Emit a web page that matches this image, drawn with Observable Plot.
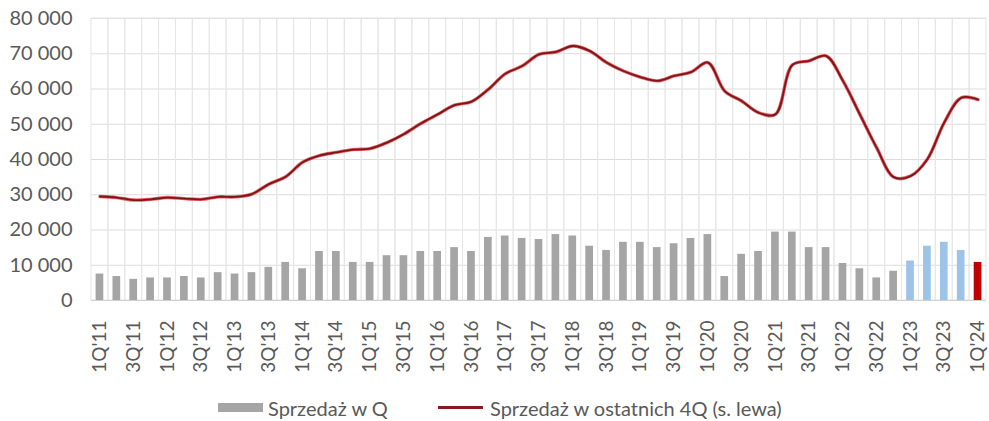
<!DOCTYPE html>
<html>
<head>
<meta charset="utf-8">
<script src="https://cdn.jsdelivr.net/npm/d3@7"></script>
<script src="https://cdn.jsdelivr.net/npm/@observablehq/plot@0.6"></script>
<style>
  html, body { margin: 0; padding: 0; background: #fff; }
  #chart { width: 989px; height: 421px; position: relative; font-family: Lato, "Open Sans", sans-serif; color: #595959; }
  #legend { position: absolute; left: 0; top: 394px; width: 989px; height: 27px; font-size: 20px; }
  .item { position: absolute; top: 0; display: flex; align-items: center; height: 27px; }
  .sw-bar { width: 45px; height: 9px; background: #a5a5a5; margin-right: 5px; }
  .sw-line { width: 45px; height: 3px; background: #8b1a1d; margin-right: 7px; }
</style>
</head>
<body>
<div id="chart"></div>
<script>
const quarters = ["1Q'11","2Q'11","3Q'11","4Q'11","1Q'12","2Q'12","3Q'12","4Q'12","1Q'13","2Q'13","3Q'13","4Q'13",
  "1Q'14","2Q'14","3Q'14","4Q'14","1Q'15","2Q'15","3Q'15","4Q'15","1Q'16","2Q'16","3Q'16","4Q'16",
  "1Q'17","2Q'17","3Q'17","4Q'17","1Q'18","2Q'18","3Q'18","4Q'18","1Q'19","2Q'19","3Q'19","4Q'19",
  "1Q'20","2Q'20","3Q'20","4Q'20","1Q'21","2Q'21","3Q'21","4Q'21","1Q'22","2Q'22","3Q'22","4Q'22",
  "1Q'23","2Q'23","3Q'23","4Q'23","1Q'24"];
const salesQ = [7500,6800,6000,6400,6400,6800,6400,7900,7500,7900,9400,10800,
  9000,13900,13900,10800,10800,12700,12700,13900,13900,15000,13900,17900,
  18300,17600,17300,18700,18300,15400,14200,16500,16500,15000,16100,17600,
  18700,6800,13100,13900,19400,19400,15000,15000,10500,9000,6400,8300,
  11200,15400,16500,14200,10800];
const sales4Q = [29500,29200,28500,28700,29200,28900,28700,29400,29400,30200,33000,35100,
  39200,41100,42000,42800,43100,44800,47200,50200,52800,55400,56400,59900,
  64300,66500,69800,70500,72200,70800,67500,65100,63400,62300,63700,64800,
  67500,59400,56600,53300,52800,66800,68000,69400,62300,52800,43300,35000,
  35300,40100,50500,57500,57000];
const yTicks = [0,10000,20000,30000,40000,50000,60000,70000,80000];
const xTickLabels = quarters.filter((d, i) => i % 2 === 0);
const seriesNames = ["Sprzedaż w Q", "Sprzedaż w ostatnich 4Q (s. lewa)"];

const data = quarters.map((q, i) => ({q, sales: salesQ[i], roll: sales4Q[i]}));
const lastQ = quarters[quarters.length - 1];
const barFill = d => d.q === lastQ ? "#c00000" : d.q.endsWith("'23") ? "#9dc3e6" : "#a5a5a5";
const fmt = d3.formatLocale({thousands: " ", grouping: [3], decimal: ","}).format(",");

const plot = Plot.plot({
  width: 989,
  height: 380,
  marginLeft: 91,
  marginRight: 3,
  marginTop: 18,
  marginBottom: 80,
  style: {fontFamily: "Lato, 'Open Sans', sans-serif", fontSize: "18px", color: "#595959", background: "#fff"},
  x: {type: "band", domain: quarters, padding: 0},
  y: {domain: [0, 80000]},
  marks: [
    Plot.gridY(yTicks, {stroke: "#dcdcdc", strokeOpacity: 1}),
    Plot.barY(quarters, {x: d => d, y1: 0, y2: 80000, fill: "none", stroke: "#e6e6e6", strokeWidth: 1}),
    Plot.barY(data, {x: "q", y: "sales", fill: barFill, insetLeft: 4.6, insetRight: 4.6}),
    Plot.ruleY([0], {stroke: "#d0d0d0"}),
    Plot.line(data, {x: "q", y: "roll", curve: "catmull-rom", stroke: "#e03a3e", strokeWidth: 3.4, strokeOpacity: 0.8}),
    Plot.line(data, {x: "q", y: "roll", curve: "catmull-rom", stroke: "#7d1518", strokeWidth: 1.8}),
    Plot.axisY(yTicks, {tickSize: 0, tickPadding: 19, tickFormat: fmt, fontSize: 20, label: null}),
    Plot.axisX(xTickLabels, {tickSize: 0, tickPadding: 20, tickRotate: -90, fontSize: 19, label: null})
  ]
});
document.getElementById("chart").appendChild(plot);

const legend = document.createElement("div");
legend.id = "legend";
legend.innerHTML = `
  <div class="item" style="left:218px"><span class="sw-bar"></span><span>${seriesNames[0]}</span></div>
  <div class="item" style="left:438px"><span class="sw-line"></span><span>${seriesNames[1]}</span></div>`;
document.getElementById("chart").appendChild(legend);
</script>
</body>
</html>
